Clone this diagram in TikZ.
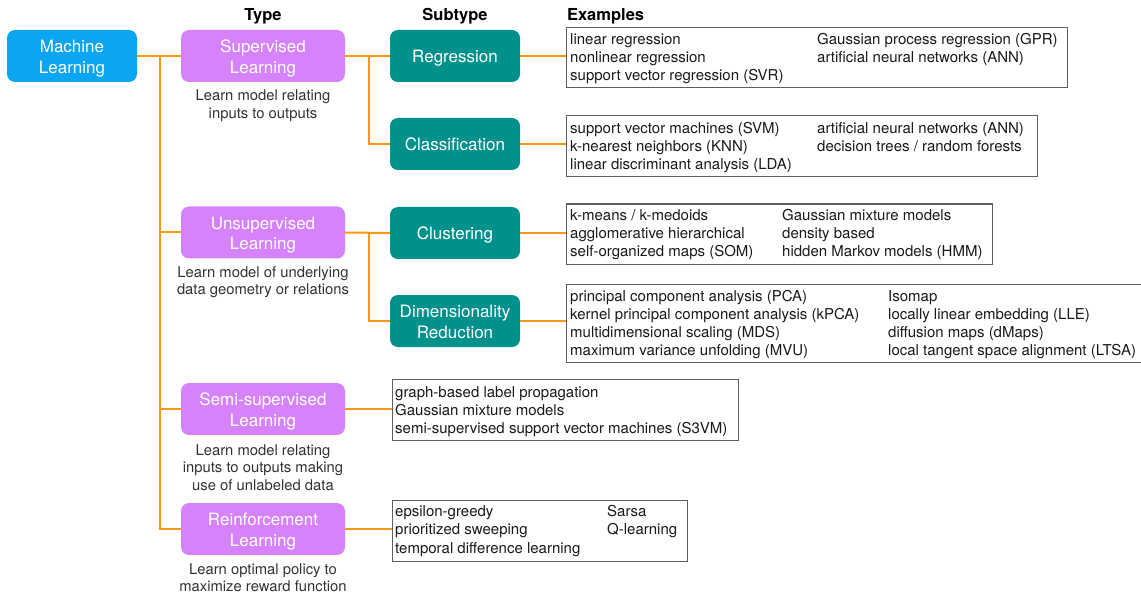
\documentclass[tikz,border=0pt]{standalone}
\usepackage{fontspec}
\setmainfont{TeX Gyre Heros}
\definecolor{mlblue}{RGB}{12,165,242}
\definecolor{typepurple}{RGB}{214,130,250}
\definecolor{subteal}{RGB}{0,145,140}
\definecolor{conn}{RGB}{255,150,20}
\definecolor{exframe}{RGB}{95,95,95}
\definecolor{txt}{RGB}{25,25,25}
\definecolor{desc}{RGB}{50,50,50}
\newcommand\exlines[5]{%
  \foreach \t [count=\i] in {#5} {\node[extext] (#1\i) at (#2, {#3+#4*(\i-1)}) {\t};}}
\newcommand\desclines[3]{%
  \foreach \t [count=\i] in {#3} {\node[desctext] (#1\i) at (263, {#2+17.6*(\i-1)}) {\t};}}
\newcommand\bxtwo[2]{\raisebox{-3pt}[\height][\depth]{\begin{tabular}{@{}c@{}}#1\\#2\end{tabular}}}
\newcommand\bxone[1]{\raisebox{-2.5pt}[\height][\depth]{\begin{tabular}{@{}c@{}}#1\end{tabular}}}
\begin{document}
\begin{tikzpicture}[x=1pt,y=-1pt,
  colbox/.style={rounded corners=8pt, draw=none, text=white, align=center,
    font=\fontsize{17}{20.5}\selectfont, inner sep=0pt},
  mlbox/.style={colbox, fill=mlblue, minimum width=130pt, minimum height=52pt},
  typebox/.style={colbox, fill=typepurple, minimum width=164pt, minimum height=52pt},
  subbox/.style={colbox, fill=subteal, minimum width=130pt, minimum height=52pt},
  exbox/.style={draw=exframe, line width=1.1pt, inner sep=0pt, anchor=north west},
  extext/.style={anchor=base west, inner sep=0pt, text=txt, font=\fontsize{15}{18}\selectfont},
  desctext/.style={anchor=base, inner sep=0pt, text=desc, font=\fontsize{14.8}{18}\selectfont},
  head/.style={inner sep=0pt, text=black, font=\bfseries\fontsize{16.5}{20}\selectfont},
  link/.style={draw=conn, line width=2pt}]
\path[use as bounding box] (0,0) rectangle (1141,596);
\clip (0,0) rectangle (1141,596);

% headers
\node[head, anchor=base] (hType) at (263,20.5) {Type};
\node[head, anchor=base] (hSub) at (455,20.5) {Subtype};
\node[head, anchor=base west] (hEx) at (567,20.5) {Examples};

% colored boxes
\node[mlbox] (ml) at (72,56) {\bxtwo{Machine}{Learning}};
\node[typebox] (sup) at (263,56) {\bxtwo{Supervised}{Learning}};
\node[typebox] (uns) at (263,232.5) {\bxtwo{Unsupervised}{Learning}};
\node[typebox] (semi) at (263,409) {\bxtwo{Semi-supervised}{Learning}};
\node[typebox] (rl) at (263,529) {\bxtwo{Reinforcement}{Learning}};
\node[subbox] (reg) at (455,56) {\bxone{Regression}};
\node[subbox] (cls) at (455,144) {\bxone{Classification}};
\node[subbox] (clu) at (455,233) {\bxone{Clustering}};
\node[subbox] (dr) at (455,321) {\bxtwo{Dimensionality}{Reduction}};

% descriptions
\desclines{dsup}{101}{Learn model relating, inputs to outputs}
\desclines{duns}{277}{Learn model of underlying, data geometry or relations}
\desclines{dsemi}{455}{Learn model relating, inputs to outputs making, use of unlabeled data}
\desclines{drl}{574}{Learn optimal policy to, maximize reward function}

% example boxes
\node[exbox, minimum width=500.5pt, minimum height=60.6pt] (regex) at (566,26.7) {};
\node[exbox, minimum width=471pt, minimum height=61pt] (clsex) at (566,115) {};
\node[exbox, minimum width=425.5pt, minimum height=60.5pt] (cluex) at (566,203.5) {};
\node[exbox, minimum width=600pt, minimum height=77.5pt] (drex) at (566,284) {};
\node[exbox, minimum width=346.5pt, minimum height=60.7pt] (semiex) at (391.5,379.3) {};
\node[exbox, minimum width=295.5pt, minimum height=61pt] (rlex) at (391.5,499.5) {};

% example texts
\exlines{rega}{570}{44.3}{18.2}{linear regression, nonlinear regression, support vector regression (SVR)}
\exlines{regb}{817}{44.3}{18.2}{Gaussian process regression (GPR), artificial neural networks (ANN)}
\exlines{clsa}{570}{133.3}{18}{support vector machines (SVM), k-nearest neighbors (KNN), linear discriminant analysis (LDA)}
\exlines{clsb}{817}{133.3}{18}{artificial neural networks (ANN), decision trees / random forests}
\exlines{clua}{570}{221}{18}{k-means / k-medoids, agglomerative hierarchical, self-organized maps (SOM)}
\exlines{club}{782}{221}{18}{Gaussian mixture models, density based, hidden Markov models (HMM)}
\exlines{dra}{570}{301.7}{18}{principal component analysis (PCA), kernel principal component analysis (kPCA), multidimensional scaling (MDS), maximum variance unfolding (MVU)}
\exlines{drb}{888}{301.7}{18}{Isomap, locally linear embedding (LLE), diffusion maps (dMaps), local tangent space alignment (LTSA)}
\exlines{semia}{395}{397}{18.2}{graph-based label propagation, Gaussian mixture models, semi-supervised support vector machines (S3VM)}
\exlines{rla}{395}{516.7}{18.2}{epsilon-greedy, prioritized sweeping, temporal difference learning}
\exlines{rlb}{607}{516.7}{18.2}{Sarsa, Q-learning}

% connectors
\coordinate (trunk) at (160,56);
\coordinate (supfork) at (368.5,56);
\coordinate (unsfork) at (368.5,232.5);
\draw[link] (ml.east) -- (sup.west);
\draw[link] (trunk) |- (uns.west);
\draw[link] (trunk) |- (semi.west);
\draw[link] (trunk) |- (rl.west);
\draw[link] (sup.east) -- (reg.west);
\draw[link] (supfork) |- (cls.west);
\draw[link] (uns.east) -- (clu.west);
\draw[link] (unsfork) |- (dr.west);
\draw[link] (reg.east) -- (regex.west |- reg.east);
\draw[link] (cls.east) -- (clsex.west |- cls.east);
\draw[link] (clu.east) -- (cluex.west |- clu.east);
\draw[link] (dr.east) -- (drex.west |- dr.east);
\draw[link] (semi.east) -- (semiex.west |- semi.east);
\draw[link] (rl.east) -- (rlex.west |- rl.east);
\end{tikzpicture}
\end{document}
